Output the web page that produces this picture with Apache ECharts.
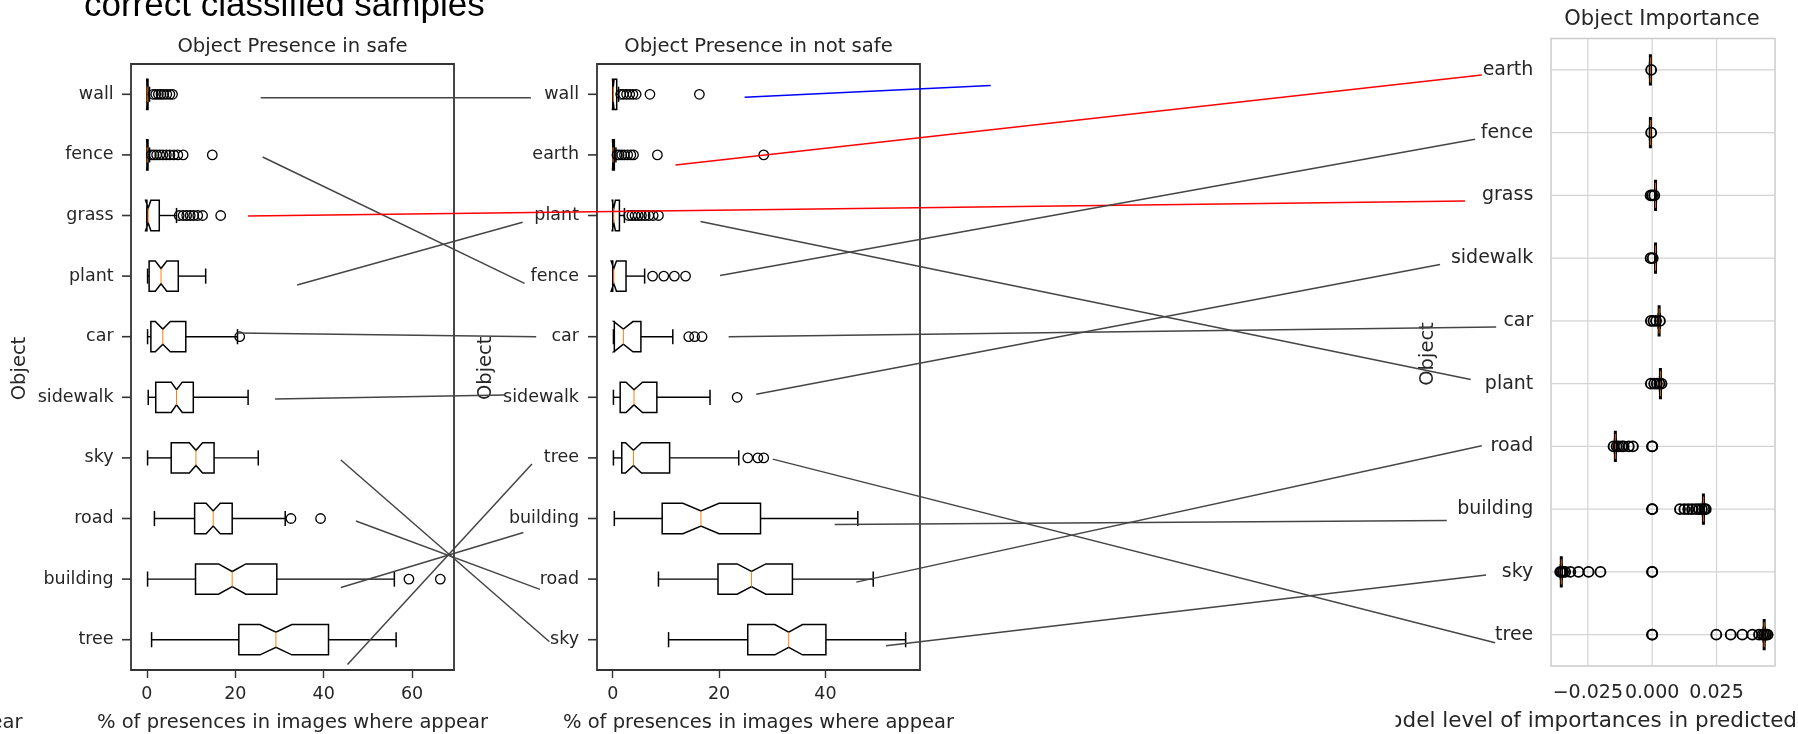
<!DOCTYPE html>
<html><head><meta charset="utf-8">
<script src="https://cdn.jsdelivr.net/npm/echarts@6/dist/echarts.min.js"></script>
<style>html,body{margin:0;padding:0;background:#fff}#c{width:1798px;height:734px}</style>
</head><body><div id="c"></div>
<script>
// ---------------- DATA ----------------
const safeCats = ['wall','fence','grass','plant','car','sidewalk','sky','road','building','tree'];
// [whiskerLow, q1, notchLow, median, notchHigh, q3, whiskerHigh]
const safeStats = [
  [0, 0, -0.05, 0.05, 0.15, 0.25, 0.6],
  [0, 0, -0.05, 0.05, 0.15, 0.25, 0.6],
  [0, 0, -0.3, 0.3, 0.9, 2.8, 6.7],
  [0.15, 0.5, 1.9, 3.2, 4.5, 7.1, 13.3],
  [0.15, 0.9, 1.9, 3.6, 5.3, 8.8, 20.5],
  [0.3, 2.0, 5.5, 6.7, 8.0, 10.5, 22.9],
  [0.15, 5.5, 9.6, 11.1, 12.6, 15.2, 25.2],
  [1.7, 10.8, 13.4, 15.0, 16.6, 19.3, 31.3],
  [0.15, 11.0, 16.2, 19.3, 22.4, 29.4, 56.0],
  [1.06, 20.8, 25.6, 29.2, 32.8, 41.1, 56.4]
];
const safeOutliers = [
  [1.4, 2.0, 2.6, 3.2, 3.8, 4.5, 5.2, 5.8],
  [1.0, 1.6, 2.2, 2.9, 3.6, 4.4, 5.2, 6.1, 7.0, 8.2, 14.8],
  [7.3, 8.2, 9.0, 9.8, 10.6, 11.5, 12.6, 16.7],
  [],
  [21.0],
  [], [],
  [32.6, 39.3],
  [59.3, 66.4],
  []
];
const safeTicks = [0, 20, 40, 60];

const notSafeCats = ['wall','earth','plant','fence','car','sidewalk','tree','building','road','sky'];
const notSafeStats = [
  [0, 0, -0.05, 0.1, 0.25, 0.75, 1.1],
  [0, 0, -0.05, 0.05, 0.15, 0.3, 0.6],
  [0, 0, -0.1, 0.2, 0.5, 1.26, 2.2],
  [0, 0, -0.3, 0.2, 0.7, 2.5, 6.0],
  [0.13, 0.3, 0.2, 2.0, 3.8, 5.3, 11.3],
  [0.13, 1.4, 2.5, 4.0, 5.6, 8.3, 18.3],
  [0.13, 1.7, 2.4, 3.9, 5.4, 10.7, 23.7],
  [0.3, 9.3, 13.2, 16.6, 20.0, 27.8, 46.1],
  [8.6, 19.8, 23.4, 26.1, 28.8, 33.8, 49.0],
  [10.5, 25.4, 30.5, 33.1, 35.7, 40.1, 55.1]
];
const notSafeOutliers = [
  [1.5, 2.0, 2.6, 3.2, 3.8, 4.4, 7.0, 16.3],
  [0.8, 1.2, 1.7, 2.2, 2.8, 3.4, 3.9, 8.4, 28.4],
  [3.0, 3.6, 4.2, 4.8, 5.4, 6.1, 6.8, 7.6, 8.6],
  [7.5, 9.6, 11.6, 13.7],
  [14.3, 15.4, 16.8],
  [23.4],
  [25.4, 27.3, 28.4],
  [], [], []
];
const notSafeTicks = [0, 20, 40];

const impCats = ['earth','fence','grass','sidewalk','car','plant','road','building','sky','tree'];
const impMedian = [-0.0007, -0.0007, 0.0013, 0.0013, 0.0027, 0.0032, -0.0143, 0.0199, -0.0353, 0.0435];
const impOutliers = [
  [-0.0004],
  [-0.0004],
  [-0.0006, 0.0, 0.0008],
  [-0.0006, 0.0002],
  [-0.0005, 0.0005, 0.0015, 0.003],
  [-0.0005, 0.0008, 0.0018, 0.0028, 0.0036],
  [-0.015, -0.0138, -0.013, -0.0118, -0.0111, -0.0091, -0.0075, 0, 0],
  [0, 0, 0.0108, 0.0125, 0.014, 0.0155, 0.017, 0.0182, 0.0193, 0.0202, 0.0208],
  [-0.0357, -0.0352, -0.0346, -0.0338, -0.0318, -0.0286, -0.0247, -0.0201, 0, 0],
  [0, 0, 0.0249, 0.0305, 0.035, 0.0389, 0.0415, 0.0428, 0.0435, 0.0442, 0.0448]
];
const impTicks = [-0.025, 0, 0.025];

// annotation links: [fromGrid, fromCat, fromX, fromDy, toGrid, toCat, toX, toDy, kind]
const links = [
  [0,'wall',25.75,0.056, 1,'wall',-15.4,0.056,'k'],
  [0,'fence',26.2,0.035, 1,'fence',-16.6,0.12,'k'],
  [0,'grass',22.9,0.01, 2,'grass',-0.0727,0.09,'r'],
  [0,'plant',34.0,0.147, 1,'plant',-16.95,0.11,'k'],
  [0,'car',20.5,-0.06, 1,'car',-14.4,0.0,'k'],
  [0,'sidewalk',29.0,0.03, 1,'sidewalk',-20.4,-0.04,'k'],
  [0,'sky',43.9,0.035, 1,'sky',-11.9,0.033,'k'],
  [0,'road',47.3,0.04, 1,'road',-13.7,0.17,'k'],
  [0,'building',43.9,0.14, 1,'building',-16.8,0.23,'k'],
  [0,'tree',45.4,0.41, 1,'tree',-15.2,0.10,'k'],
  [1,'wall',24.8,0.05, 1,'wall',71.1,-0.144,'b'],
  [1,'earth',11.8,0.167, 2,'earth',-0.0662,0.08,'r'],
  [1,'plant',16.5,0.10, 2,'plant',-0.0705,-0.065,'k'],
  [1,'fence',20.2,-0.01, 2,'fence',-0.0688,0.105,'k'],
  [1,'car',21.8,0.0, 2,'car',-0.0606,0.097,'k'],
  [1,'sidewalk',27.0,-0.05, 2,'sidewalk',-0.0824,0.10,'k'],
  [1,'tree',30.1,0.02, 2,'tree',-0.061,0.13,'k'],
  [1,'building',41.75,0.1, 2,'building',-0.0798,0.18,'k'],
  [1,'road',45.8,0.05, 2,'road',-0.0662,-0.01,'k'],
  [1,'sky',51.4,0.10, 2,'sky',-0.0645,0.05,'k']
];

// ---------------- STYLE / LAYOUT ----------------
const FONT = 'DejaVu Sans';
const TXT = '#262626';
const linkColors = {k:'#454545', r:'#ff0000', b:'#0000ff'};
const gridCats = [safeCats, notSafeCats, impCats];
const xRanges = [[-3.6, 69.5], [-2.96, 57.8], [-0.0393, 0.0477]];

const chart = echarts.init(document.getElementById('c'), null, {renderer:'canvas'});

function boxRender(notched, lw, medW){
  return function(params, api){
    const yi = api.value(0);
    const wlo=api.value(1), q1=api.value(2), clo=api.value(3), med=api.value(4),
          chi=api.value(5), q3=api.value(6), whi=api.value(7);
    const band = api.size([0,1])[1];
    const cy = api.coord([med, yi])[1];
    const X = t => api.coord([t, yi])[0];
    const hw = band*0.25, nw = hw*0.5, cw = band*0.125;
    let pts;
    if (notched) pts = [[X(q1),cy-hw],[X(clo),cy-hw],[X(med),cy-nw],[X(chi),cy-hw],[X(q3),cy-hw],
                        [X(q3),cy+hw],[X(chi),cy+hw],[X(med),cy+nw],[X(clo),cy+hw],[X(q1),cy+hw]];
    else pts = [[X(q1),cy-hw],[X(q3),cy-hw],[X(q3),cy+hw],[X(q1),cy+hw]];
    const mh = notched ? nw : hw*0.8;
    return {type:'group', children:[
      {type:'line', shape:{x1:X(wlo),y1:cy,x2:X(q1),y2:cy}, style:{stroke:'#000',lineWidth:1.4}},
      {type:'line', shape:{x1:X(q3),y1:cy,x2:X(whi),y2:cy}, style:{stroke:'#000',lineWidth:1.4}},
      {type:'line', shape:{x1:X(wlo),y1:cy-cw,x2:X(wlo),y2:cy+cw}, style:{stroke:'#000',lineWidth:lw}},
      {type:'line', shape:{x1:X(whi),y1:cy-cw,x2:X(whi),y2:cy+cw}, style:{stroke:'#000',lineWidth:lw}},
      {type:'polygon', shape:{points:pts}, style:{fill:'none', stroke:'#000', lineWidth:lw}},
      {type:'line', shape:{x1:X(med),y1:cy-mh,x2:X(med),y2:cy+mh}, style:{stroke:'#ff7f0e', lineWidth:medW}}
    ]};
  };
}

function gridRowRender(params, api){
  const cs = params.coordSys;
  const y = api.coord([0, api.value(1)])[1];
  return {type:'line', shape:{x1:cs.x, y1:y, x2:cs.x+cs.width, y2:y}, style:{stroke:'#d4d4d4', lineWidth:1.2}};
}
function gridColRender(params, api){
  const cs = params.coordSys;
  const x = api.coord([api.value(0), 0])[0];
  return {type:'line', shape:{x1:x, y1:cs.y, x2:x, y2:cs.y+cs.height}, style:{stroke:'#d4d4d4', lineWidth:1.2}};
}

const boxData = stats => stats.map((s,i)=>[i].concat(s));
const outData = outs => outs.flatMap((arr,i)=>arr.map(v=>[v,i]));
const catRows = cats => cats.map((c,i)=>[0,i]);
const impStats = impMedian.map(m=>[m,m,m,m,m,m,m]);

function xAxisLeft(gi, ticks){
  return {gridIndex:gi, type:'value', min:xRanges[gi][0], max:xRanges[gi][1],
    axisLine:{show:false, onZero:false}, splitLine:{show:false},
    axisTick:{show:true, length:8, customValues:ticks, lineStyle:{color:'#333', width:1.4}},
    axisLabel:{customValues:ticks, margin:15, color:TXT, fontFamily:FONT, fontSize:17.5}};
}
function yAxisCat(gi, cats, margin, fs){
  return {gridIndex:gi, type:'category', data:cats, inverse:true, boundaryGap:true,
    axisLine:{show:false, onZero:false}, splitLine:{show:false},
    axisTick:{show:false},
    axisLabel:{interval:0, margin:margin, color:TXT, fontFamily:FONT, fontSize:fs}};
}

const scatterStyle = (bw, sz) => ({type:'scatter', symbol:'circle', symbolSize:sz,
  itemStyle:{color:'rgba(0,0,0,0)', borderColor:'#000', borderWidth:bw, opacity:1}, z:3});

const option = {
  animation:false,
  backgroundColor:'#fff',
  grid:[
    {left:131, top:64, width:323, height:606, show:true, borderColor:'#333', borderWidth:1.8, backgroundColor:'transparent', containLabel:false, outerBoundsMode:'none'},
    {left:597, top:64, width:323, height:606, show:true, borderColor:'#333', borderWidth:1.8, backgroundColor:'transparent', containLabel:false, outerBoundsMode:'none'},
    {left:1551, top:38.5, width:224, height:627.5, show:true, borderColor:'#cccccc', borderWidth:1.5, backgroundColor:'transparent', containLabel:false, outerBoundsMode:'none'}
  ],
  xAxis:[
    xAxisLeft(0, safeTicks),
    xAxisLeft(1, notSafeTicks),
    {gridIndex:2, type:'value', min:xRanges[2][0], max:xRanges[2][1],
      axisLine:{show:false, onZero:false}, splitLine:{show:false}, axisTick:{show:false, customValues:impTicks},
      axisLabel:{customValues:impTicks, margin:17.5, color:TXT, fontFamily:FONT, fontSize:19,
        formatter:v => (v<0?'\u2212':'') + Math.abs(v).toFixed(3)}}
  ],
  yAxis:[
    yAxisCat(0, safeCats, 17.4, 17.5),
    yAxisCat(1, notSafeCats, 18, 17.5),
    yAxisCat(2, impCats, 17.7, 19)
  ],
  series:[
    {type:'custom', xAxisIndex:2, yAxisIndex:2, renderItem:gridRowRender, data:catRows(impCats), encode:{x:0,y:1}, z:0, silent:true},
    {type:'custom', xAxisIndex:2, yAxisIndex:2, renderItem:gridColRender, data:impTicks.map(v=>[v,0]), encode:{x:0,y:1}, z:0, silent:true},
    {type:'custom', xAxisIndex:0, yAxisIndex:0, renderItem:boxRender(true,1.5,1), data:boxData(safeStats), encode:{y:0,x:[1,2,3,4,5,6,7]}, z:2, silent:true, clip:false},
    {type:'custom', xAxisIndex:1, yAxisIndex:1, renderItem:boxRender(true,1.5,1), data:boxData(notSafeStats), encode:{y:0,x:[1,2,3,4,5,6,7]}, z:2, silent:true, clip:false},
    {type:'custom', xAxisIndex:2, yAxisIndex:2, renderItem:boxRender(false,3,0.8), data:boxData(impStats), encode:{y:0,x:[1,2,3,4,5,6,7]}, z:2, silent:true, clip:false},
    Object.assign(scatterStyle(1.3, 9.5), {xAxisIndex:0, yAxisIndex:0, data:outData(safeOutliers), silent:true}),
    Object.assign(scatterStyle(1.3, 9.5), {xAxisIndex:1, yAxisIndex:1, data:outData(notSafeOutliers), silent:true}),
    Object.assign(scatterStyle(1.9, 10), {xAxisIndex:2, yAxisIndex:2, data:outData(impOutliers), silent:true})
  ],
  graphic:[
    {type:'text', x:84, y:6, style:{text:'correct classified samples', font:'35px "Liberation Sans", Arial, sans-serif', fill:'#000', align:'left', verticalAlign:'middle'}, z:50},
    {type:'text', x:292.5, y:47, style:{text:'Object Presence in safe', font:'19.6px "DejaVu Sans"', fill:TXT, align:'center', verticalAlign:'middle'}},
    {type:'text', x:758.5, y:47, style:{text:'Object Presence in not safe', font:'19.6px "DejaVu Sans"', fill:TXT, align:'center', verticalAlign:'middle'}},
    {type:'text', x:1662, y:19.7, style:{text:'Object Importance', font:'21px "DejaVu Sans"', fill:TXT, align:'center', verticalAlign:'middle'}},
    {type:'text', x:292.5, y:723.3, style:{text:'% of presences in images where appear', font:'19.5px "DejaVu Sans"', fill:TXT, align:'center', verticalAlign:'middle'}},
    {type:'text', x:758.5, y:723.3, style:{text:'% of presences in images where appear', font:'19.5px "DejaVu Sans"', fill:TXT, align:'center', verticalAlign:'middle'}},
    {type:'text', x:22.5, y:723.3, style:{text:'% of presences in images where appear', font:'19.5px "DejaVu Sans"', fill:TXT, align:'right', verticalAlign:'middle'}},
    {type:'text', x:1797, y:721, style:{text:'model level of importances in predicted', font:'21.5px "DejaVu Sans"', fill:TXT, align:'right', verticalAlign:'middle'}, z:10},
    {type:'rect', shape:{x:1200, y:700, width:195.5, height:34}, style:{fill:'#fff'}, z:11},
    {type:'text', x:20, y:368.5, rotation:Math.PI/2, style:{text:'Object', font:'19.5px "DejaVu Sans"', fill:TXT, align:'center', verticalAlign:'middle'}},
    {type:'text', x:486, y:368.3, rotation:Math.PI/2, style:{text:'Object', font:'19.5px "DejaVu Sans"', fill:TXT, align:'center', verticalAlign:'middle'}},
    {type:'text', x:1428, y:354, rotation:Math.PI/2, style:{text:'Object', font:'19.5px "DejaVu Sans"', fill:TXT, align:'center', verticalAlign:'middle'}}
  ]
};
chart.setOption(option);

// category tick marks (left side of the two presence panels), placed through the axis scales
const tickEls = [];
[0, 1].forEach(g => {
  gridCats[g].forEach((c, i) => {
    const p = chart.convertToPixel({gridIndex:g}, [xRanges[g][0], i]);
    tickEls.push({type:'line', shape:{x1:p[0]-9, y1:p[1], x2:p[0], y2:p[1]},
      style:{stroke:'#333', lineWidth:1.6}, z:5, silent:true});
  });
});

// annotation lines placed through the axes' scales
function pt(g, cat, x, dy){
  const i = gridCats[g].indexOf(cat);
  const p = chart.convertToPixel({gridIndex:g}, [x, i]);
  const a = chart.convertToPixel({gridIndex:g}, [x, 0]);
  const b = chart.convertToPixel({gridIndex:g}, [x, 1]);
  return [p[0], p[1] + dy*(b[1]-a[1])];
}
const lineEls = links.map(l => {
  const p = pt(l[0], l[1], l[2], l[3]);
  const q = pt(l[4], l[5], l[6], l[7]);
  return {type:'line', shape:{x1:p[0], y1:p[1], x2:q[0], y2:q[1]},
    style:{stroke:linkColors[l[8]], lineWidth:1.5}, z:100, silent:true};
});
chart.setOption({graphic: option.graphic.concat(tickEls, lineEls)});
</script>
</body></html>
